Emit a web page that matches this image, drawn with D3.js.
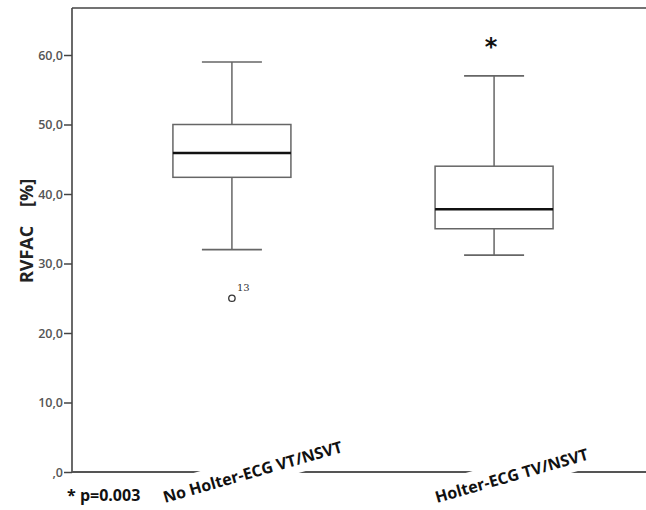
<!DOCTYPE html>
<html>
<head>
<meta charset="utf-8">
<script src="https://cdn.jsdelivr.net/npm/d3@7"></script>
<style>
  html, body { margin: 0; padding: 0; background: #fff; }
  svg { display: block; }
</style>
</head>
<body>
<svg id="chart" width="646" height="510"></svg>
<script>
// Groups and their box-plot summaries (RVFAC, %)
const groups = ["No Holter-ECG VT/NSVT", "Holter-ECG TV/NSVT"];
const whiskerLow = [32.0, 31.2];
const q1 = [42.4, 35.0];
const median = [45.9, 37.8];
const q3 = [50.0, 44.0];
const whiskerHigh = [59.0, 57.0];

// Outliers: group index, value, case label
const outlierGroup = [0];
const outlierValue = [25.0];
const outlierCase = ["13"];

// Y axis ticks
const yTicks = [0, 10, 20, 30, 40, 50, 60];
const yTickLabels = [",0", "10,0", "20,0", "30,0", "40,0", "50,0", "60,0"];

const svg = d3.select("#chart");
const plotLeft = 72, plotTop = 8, plotRight = 646, plotBottom = 472;

const y = d3.scaleLinear().domain([0, 60]).range([plotBottom, 55]);
const x = d3.scalePoint().domain(groups).range([plotLeft, 654]).padding(0.61);
const boxW = 118, capW = 60;

// Y axis
const yAxis = d3.axisLeft(y).tickValues(yTicks)
  .tickFormat((d, i) => yTickLabels[i]).tickSize(8).tickSizeOuter(0).tickPadding(1);
const gy = svg.append("g").attr("transform", `translate(${plotLeft},0)`).call(yAxis);
gy.select(".domain").remove();
gy.selectAll(".tick line").attr("stroke", "#444").attr("stroke-width", 1.5);
gy.selectAll(".tick text")
  .attr("fill", "#555").style("font-family", "'Open Sans', sans-serif")
  .style("font-size", "12.5px").style("font-weight", "600");

// Frame: left and top lines, bottom axis line
svg.append("line").attr("x1", plotLeft).attr("x2", plotLeft).attr("y1", plotTop).attr("y2", plotBottom)
  .attr("stroke", "#444").attr("stroke-width", 1.6);
svg.append("line").attr("x1", plotLeft).attr("x2", plotRight).attr("y1", plotTop).attr("y2", plotTop)
  .attr("stroke", "#444").attr("stroke-width", 1.6);
svg.append("line").attr("x1", plotLeft).attr("x2", plotRight).attr("y1", plotBottom).attr("y2", plotBottom)
  .attr("stroke", "#555").attr("stroke-width", 2);

// Boxes
const g = svg.append("g");
groups.forEach((name, i) => {
  const cx = x(name);
  const stroke = "#666";
  g.append("line").attr("x1", cx).attr("x2", cx)
    .attr("y1", y(whiskerHigh[i])).attr("y2", y(q3[i]))
    .attr("stroke", stroke).attr("stroke-width", 1.5);
  g.append("line").attr("x1", cx).attr("x2", cx)
    .attr("y1", y(q1[i])).attr("y2", y(whiskerLow[i]))
    .attr("stroke", stroke).attr("stroke-width", 1.5);
  [whiskerHigh[i], whiskerLow[i]].forEach(v => {
    g.append("line").attr("x1", cx - capW / 2).attr("x2", cx + capW / 2)
      .attr("y1", y(v)).attr("y2", y(v))
      .attr("stroke", stroke).attr("stroke-width", 1.6);
  });
  g.append("rect").attr("x", cx - boxW / 2).attr("y", y(q3[i]))
    .attr("width", boxW).attr("height", y(q1[i]) - y(q3[i]))
    .attr("fill", "#fff").attr("stroke", stroke).attr("stroke-width", 1.5);
  g.append("line").attr("x1", cx - boxW / 2).attr("x2", cx + boxW / 2)
    .attr("y1", y(median[i])).attr("y2", y(median[i]))
    .attr("stroke", "#111").attr("stroke-width", 2.5);
});

// Outliers
outlierValue.forEach((v, k) => {
  const cx = x(groups[outlierGroup[k]]);
  g.append("circle").attr("cx", cx).attr("cy", y(v)).attr("r", 3.2)
    .attr("fill", "#fff").attr("stroke", "#333").attr("stroke-width", 1.3);
  g.append("text").attr("x", cx + 5).attr("y", y(v) - 7)
    .attr("fill", "#333").style("font-family", "'DejaVu Serif', serif")
    .style("font-size", "10px").text(outlierCase[k]);
});

// Significance marker above the second group
svg.append("text").attr("x", x(groups[1]) - 3).attr("y", 55)
  .attr("text-anchor", "middle").attr("fill", "#111")
  .style("font-family", "'DejaVu Sans', sans-serif").style("font-size", "24px")
  .style("font-weight", "bold").text("*");

// Category labels, rotated, each on a white box that breaks the axis line
const labelPos = [[165, 503], [437, 503]];
const cats = svg.selectAll("g.cat").data(groups).join("g").attr("class", "cat")
  .attr("transform", (d, i) => `translate(${labelPos[i][0]},${labelPos[i][1]}) rotate(-16)`);
const bg = cats.append("rect").attr("fill", "#fff");
const catText = cats.append("text")
  .attr("fill", "#111").style("font-family", "'Open Sans', sans-serif")
  .style("font-size", "16px").style("font-weight", "bold")
  .text(d => d);
catText.each(function (d, i) {
  const w = this.getComputedTextLength();
  d3.select(bg.nodes()[i]).attr("x", -4).attr("y", -21).attr("width", w + 8).attr("height", 29);
});

// Y axis title
svg.append("text")
  .attr("transform", `translate(33,231) rotate(-90)`)
  .attr("text-anchor", "middle").attr("fill", "#222")
  .style("font-family", "'Open Sans', sans-serif").style("font-size", "18px")
  .style("font-weight", "bold").style("white-space", "pre")
  .text("RVFAC    [%]");

// P-value note
svg.append("text").attr("x", 67).attr("y", 501)
  .attr("fill", "#111").style("font-family", "'Open Sans', sans-serif")
  .style("font-size", "16px").style("font-weight", "bold")
  .text("* p=0.003");
</script>
</body>
</html>
